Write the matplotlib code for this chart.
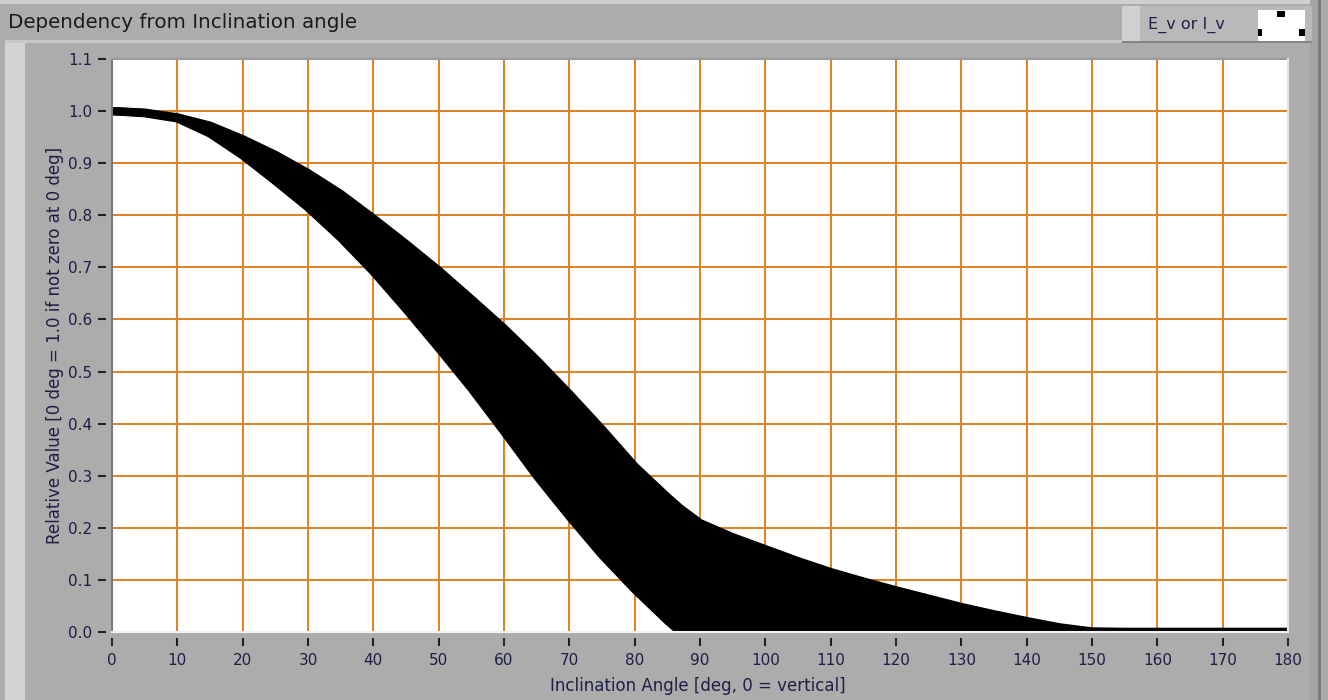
import matplotlib
matplotlib.use("Agg")
import matplotlib.pyplot as plt
from matplotlib.patches import Rectangle

# ---- data ----
angles = [0, 5, 10, 15, 20, 25, 30, 35, 40, 45, 50, 55, 60, 65, 70, 75, 80, 85, 87,
          90, 95, 100, 105, 110, 115, 120, 125, 130, 135, 140, 145, 150, 155, 160,
          165, 170, 175, 180]
upper = [1.000, 0.997, 0.988, 0.972, 0.946, 0.916, 0.881, 0.841, 0.794, 0.745,
         0.694, 0.639, 0.583, 0.522, 0.457, 0.389, 0.318, 0.259, 0.237,
         0.209, 0.182, 0.159, 0.136, 0.115, 0.097, 0.080, 0.064, 0.048, 0.034,
         0.021, 0.009, 0.001, 0.0, 0.0, 0.0, 0.0, 0.0, 0.0]
lower = [1.000, 0.996, 0.986, 0.957, 0.915, 0.866, 0.815, 0.757, 0.692, 0.620,
         0.545, 0.468, 0.385, 0.300, 0.222, 0.148, 0.082, 0.022, 0.0,
         0.0, 0.0, 0.0, 0.0, 0.0, 0.0, 0.0, 0.0, 0.0, 0.0, 0.0, 0.0, 0.0, 0.0,
         0.0, 0.0, 0.0, 0.0, 0.0]
x_ticks = list(range(0, 181, 10))
y_ticks = [i / 10 for i in range(0, 12)]
title = "Dependency from Inclination angle"
x_label = "Inclination Angle [deg, 0 = vertical]"
y_label = "Relative Value [0 deg = 1.0 if not zero at 0 deg]"
legend_label = "E_v or I_v"

W, H = 1328, 700
fig = plt.figure(figsize=(W / 100, H / 100), dpi=100, facecolor="#acacac")


def prect(x0, y0, x1, y1, color):
    fig.add_artist(Rectangle((x0 / W, 1 - y1 / H), (x1 - x0) / W, (y1 - y0) / H,
                             transform=fig.transFigure, facecolor=color, lw=0))


# panel decoration
prect(0, 0, W, 4, "#cfcfcf")
prect(5, 40, 1310, 43, "#c6c6c6")
prect(5, 43, 25, H, "#d2d2d2")
prect(1310, 0, 1318, H, "#a3a3a3")
prect(1318, 0, 1321, H, "#7c7c7c")
prect(1321, 0, W, H, "#a8a8a8")

# legend box
prect(1122, 6, 1312, 42, "#b9b9b9")
prect(1122, 6, 1140, 42, "#d0d0d0")
prect(1122, 41, 1312, 43, "#858585")
prect(1258, 10, 1305, 41, "white")
prect(1277, 11, 1285, 17, "black")
prect(1258, 29, 1262, 36, "black")
prect(1299, 29, 1305, 36, "black")
fig.text(1148 / W, 1 - 25 / H, legend_label, fontsize=11.5, color="#1e1e46",
         ha="left", va="center")

fig.text(8 / W, 1 - 23 / H, title, fontsize=14.3, color="#1a1a1a",
         ha="left", va="center")

# ---- axes ----
L, R, T, B = 112, 1288, 59, 632
ax = fig.add_axes([L / W, 1 - B / H, (R - L) / W, (B - T) / H])
ax.set_facecolor("white")
ax.set_xlim(0, 180)
ax.set_ylim(0, 1.1)
ax.set_xticks(x_ticks)
ax.set_yticks(y_ticks)
ax.set_yticklabels([f"{v:.1f}" for v in y_ticks])
ax.grid(True, color="#e0801e", lw=1.4)
ax.set_axisbelow(True)

# band of points
ax.fill_between(angles, lower, upper, color="black", lw=0, zorder=3)
for env in (upper, lower):
    ax.plot(angles, env, color="black", lw=6.0, solid_capstyle="butt",
            solid_joinstyle="round", zorder=3)

# frame (sunken look) and ticks offset from the plot edge
for s in ax.spines.values():
    s.set_visible(False)
ax.spines["left"].set_position(("outward", 4))
ax.spines["bottom"].set_position(("outward", 4))
for (x0, y0, x1, y1, c) in [(0, 0, 0, 1, "#7a7a7a"), (0, 1, 1, 1, "#9a9a9a"),
                            (1, 0, 1, 1, "#e4e4e4"), (0, 0, 1, 0, "#f2f2f2")]:
    ax.plot([x0, x1], [y0, y1], transform=ax.transAxes, color=c, lw=1.5,
            clip_on=False, zorder=5)

ax.tick_params(direction="out", length=6, width=1.5, color="#222222",
               labelsize=11, labelcolor="#1e1e46")
ax.tick_params(axis="y", pad=4)
ax.tick_params(axis="x", pad=5)

ax.set_xlabel(x_label, fontsize=12, color="#1e1e46")
ax.set_ylabel(y_label, fontsize=12, color="#1e1e46")
ax.xaxis.set_label_coords(0.498, (B - 686) / (B - T))
ax.xaxis.label.set_va("center")
ax.yaxis.set_label_coords((55 - L) / (R - L), 0.5)
ax.yaxis.label.set_va("center")

fig.savefig("out.png", dpi=100, facecolor=fig.get_facecolor())
